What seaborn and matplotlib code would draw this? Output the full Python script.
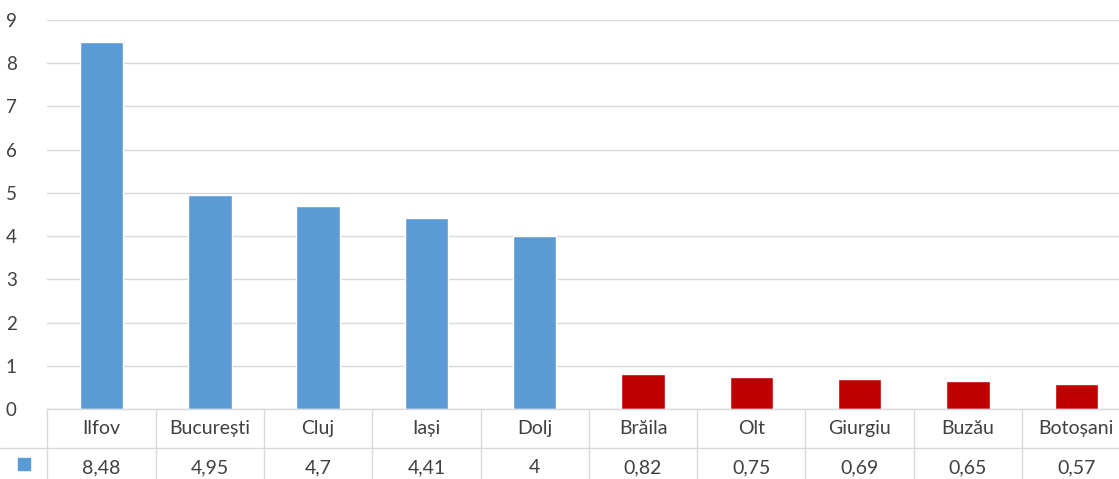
import matplotlib
matplotlib.use('Agg')
import matplotlib.pyplot as plt
import seaborn as sns
import pandas as pd

counties = ['Ilfov', 'București', 'Cluj', 'Iași', 'Dolj',
            'Brăila', 'Olt', 'Giurgiu', 'Buzău', 'Botoșani']
values = [8.48, 4.95, 4.7, 4.41, 4, 0.82, 0.75, 0.69, 0.65, 0.57]
groups = ['top', 'top', 'top', 'top', 'top',
          'bottom', 'bottom', 'bottom', 'bottom', 'bottom']

df = pd.DataFrame({'judet': counties, 'valoare': values, 'grup': groups})

sns.set_style('white')
plt.rcParams['font.family'] = ['Lato', 'DejaVu Sans']

W, H = 1119, 479
text_col = '#404040'
grid_col = '#D9D9D9'

fig = plt.figure(figsize=(W / 100, H / 100), dpi=100)

# bar area (right edge runs a little past the picture, as in the reference)
ax = fig.add_axes([47.4 / W, (H - 409) / H, 1083 / W, (409 - 20) / H])
sns.barplot(data=df, x='judet', y='valoare', hue='grup',
            palette={'top': '#5B9BD5', 'bottom': '#C00000'},
            width=0.4, dodge=False, legend=False, saturation=1, ax=ax)
ax.set_xlim(-0.5, 9.5)
ax.set_ylim(0, 9)
ax.set_yticks(range(10))
ax.yaxis.grid(True, color=grid_col, lw=1)
ax.set_axisbelow(True)
ax.set_xticks([])
ax.set_xlabel('')
ax.set_ylabel('')
for s in ax.spines.values():
    s.set_visible(False)
ax.tick_params(axis='y', length=0, pad=22, labelsize=13.5, labelcolor=text_col)

# data table under the bars
tax = fig.add_axes([47.4 / W, -8 / H, 1083 / W, 78 / H])
tax.set_xlim(-0.5, 9.5)
tax.set_ylim(0, 2)
tax.axis('off')
left_ext = -0.5 - 47.4 / 108.3
tax.plot([-0.5, 9.5], [2, 2], color=grid_col, lw=1, clip_on=False)
tax.plot([left_ext, 9.5], [1, 1], color=grid_col, lw=1, clip_on=False)
for i in range(11):
    tax.plot([i - 0.5, i - 0.5], [0, 2], color=grid_col, lw=1, clip_on=False)
for i, (name, v) in enumerate(zip(counties, values)):
    tax.text(i, 1.5, name, ha='center', va='center', fontsize=14, color=text_col)
    lab = ('%g' % v).replace('.', ',')
    tax.text(i, 0.5, lab, ha='center', va='center', fontsize=14, color=text_col)
tax.scatter([-0.72], [0.6], marker='s', s=70, color='#5B9BD5', clip_on=False)

fig.savefig('out.png', dpi=100)
